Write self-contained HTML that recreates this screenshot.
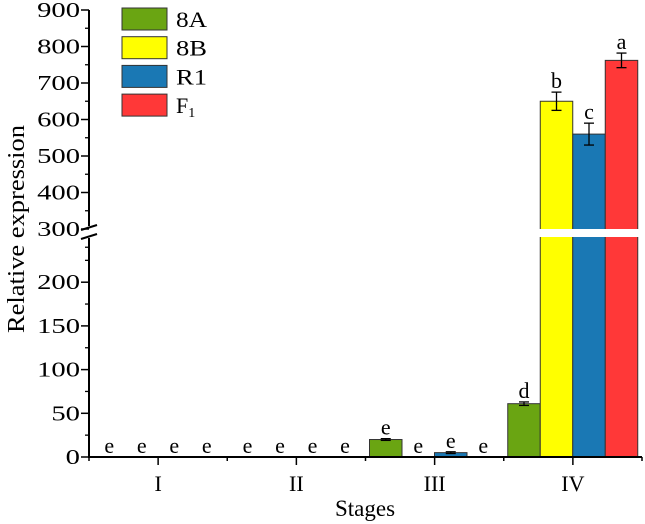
<!DOCTYPE html>
<html><head><meta charset="utf-8"><style>
html,body{margin:0;padding:0;background:#fff;}
svg{display:block;font-family:"Liberation Serif",serif;}
</style></head><body>
<svg id="chart" width="645" height="524" xmlns="http://www.w3.org/2000/svg"></svg>
<script>
const stages = ["I","II","III","IV"];
const seriesNames = ["8A","8B","R1","F\u2081"];
const seriesColors = ["#6aa512","#ffff00","#1a78b4","#ff3838"];
const values8A = [0,0,20,61];
const values8B = [0,0,0,650];
const valuesR1 = [0,0,5,560];
const valuesF1 = [0,0,0,762];
const err8A = [0,0,1,2];
const err8B = [0,0,0,25];
const errR1 = [0,0,1,30];
const errF1 = [0,0,0,20];
const letters8A = ["e","e","e","d"];
const letters8B = ["e","e","e","b"];
const lettersR1 = ["e","e","e","c"];
const lettersF1 = ["e","e","e","a"];
const lowTicks = [0,50,100,150,200];
const highTicks = [300,400,500,600,700,800,900];

const NS="http://www.w3.org/2000/svg";
const svg=document.getElementById('chart');
function mk(tag,attrs,parent){const e=document.createElementNS(NS,tag);for(const k in attrs)e.setAttribute(k,attrs[k]);(parent||svg).appendChild(e);return e;}
const X0=89,X1=642,BASE=457,BREAK_LO=250;
function y(v){ if(v<=BREAK_LO) return BASE-v*0.874; return 229-(v-300)*0.365; }
const groupW=(X1-X0)/stages.length, barW=32.5, pad=4;
function bx(g,s){return X0+g*groupW+pad+s*barW;}

const vals=[values8A,values8B,valuesR1,valuesF1];
const errs=[err8A,err8B,errR1,errF1];
const lets=[letters8A,letters8B,lettersR1,lettersF1];

for(let s=0;s<4;s++){
  for(let g=0;g<stages.length;g++){
    const v=vals[s][g], x=bx(g,s);
    if(v>0){
      const r=mk('rect',{x:x,y:y(v),width:barW,height:BASE-y(v),fill:seriesColors[s],stroke:'#333','stroke-width':1});
      
      
    }
    let top=y(v);
    const e=errs[s][g];
    if(e>0){
      const cx=x+barW/2, yt=y(v+e), yb=y(v-e);
      const eg=mk('g',{stroke:'#000','stroke-width':1.3});
      
      
      mk('line',{x1:cx,x2:cx,y1:yt,y2:yb},eg);
      mk('line',{x1:cx-5,x2:cx+5,y1:yt,y2:yt},eg);
      mk('line',{x1:cx-5,x2:cx+5,y1:yb,y2:yb},eg);
      top=yt;
    }
    const t=mk('text',{x:x+barW/2,y:top-4,'font-size':22,'text-anchor':'middle',fill:'#000'});
    t.textContent=lets[s][g];
    
    
  }
}
mk('rect',{x:X0+1,y:229,width:X1-X0,height:8,fill:'#fff'});

const ax=mk('g',{stroke:'#000','stroke-width':2});


mk('line',{x1:X0,x2:X0,y1:10,y2:226},ax);
mk('line',{x1:X0,x2:X0,y1:238,y2:BASE+1},ax);
mk('line',{x1:X0-1,x2:X1,y1:BASE,y2:BASE},ax);
mk('line',{x1:X0-8,x2:X0+8,y1:230,y2:225},ax);
mk('line',{x1:X0-8,x2:X0+8,y1:239,y2:234},ax);

function ytick(v,label){
  const yy=y(v);
  mk('line',{x1:X0-8,x2:X0,y1:yy,y2:yy,stroke:'#000','stroke-width':1.5});
  const s=String(label);
  const t=mk('text',{x:X0-9-s.length*14.3,y:yy+7,'font-size':21,fill:'#000',textLength:s.length*14.3,lengthAdjust:'spacingAndGlyphs'});
  t.textContent=s;
  
  
}
lowTicks.forEach(v=>ytick(v,v));
highTicks.forEach(v=>ytick(v,v));
for(let v=25;v<250;v+=50) mk('line',{x1:X0-4,x2:X0,y1:y(v),y2:y(v),stroke:'#000','stroke-width':1.3});
mk('line',{x1:X0-4,x2:X0,y1:y(240),y2:y(240),stroke:'#000','stroke-width':1.3});
for(let v=350;v<900;v+=100) mk('line',{x1:X0-4,x2:X0,y1:y(v),y2:y(v),stroke:'#000','stroke-width':1.3});

for(let g=0;g<=stages.length;g++){
  const xx=X0+g*groupW;
  mk('line',{x1:xx,x2:xx,y1:BASE,y2:BASE+4,stroke:'#000','stroke-width':1.5});
}
stages.forEach((s,g)=>{
  const cx=X0+(g+0.5)*groupW;
  mk('line',{x1:cx,x2:cx,y1:BASE,y2:BASE+8,stroke:'#000','stroke-width':1.5});
  const t=mk('text',{x:cx,y:491,'font-size':22,'text-anchor':'middle',fill:'#000'});
  t.textContent=s;
  
  
});
const xt=mk('text',{x:365,y:516,'font-size':23,'text-anchor':'middle',fill:'#000'});
xt.textContent='Stages';


const yt=mk('text',{x:-104,y:0,'font-size':24,fill:'#000',textLength:208,lengthAdjust:'spacingAndGlyphs',transform:'translate(24,229) rotate(-90)'});
yt.textContent='Relative expression';



const lg=mk('g',{});


seriesNames.forEach((n,i)=>{
  const yy=8+i*28.7;
  mk('rect',{x:122,y:yy,width:45,height:22,fill:seriesColors[i],stroke:'#333','stroke-width':1},lg);
  let t;
  if(n==='F\u2081'){
    t=mk('text',{x:176,y:yy+19,'font-size':22,fill:'#000'},lg);
    t.textContent='F'; const ts=mk('tspan',{'font-size':14,dy:4},t); ts.textContent='1';
  } else {
    t=mk('text',{x:176,y:yy+19,'font-size':22,fill:'#000',textLength:31,lengthAdjust:'spacingAndGlyphs'},lg);
    t.textContent=n;
  }
  
  
});
</script>
</body></html>
